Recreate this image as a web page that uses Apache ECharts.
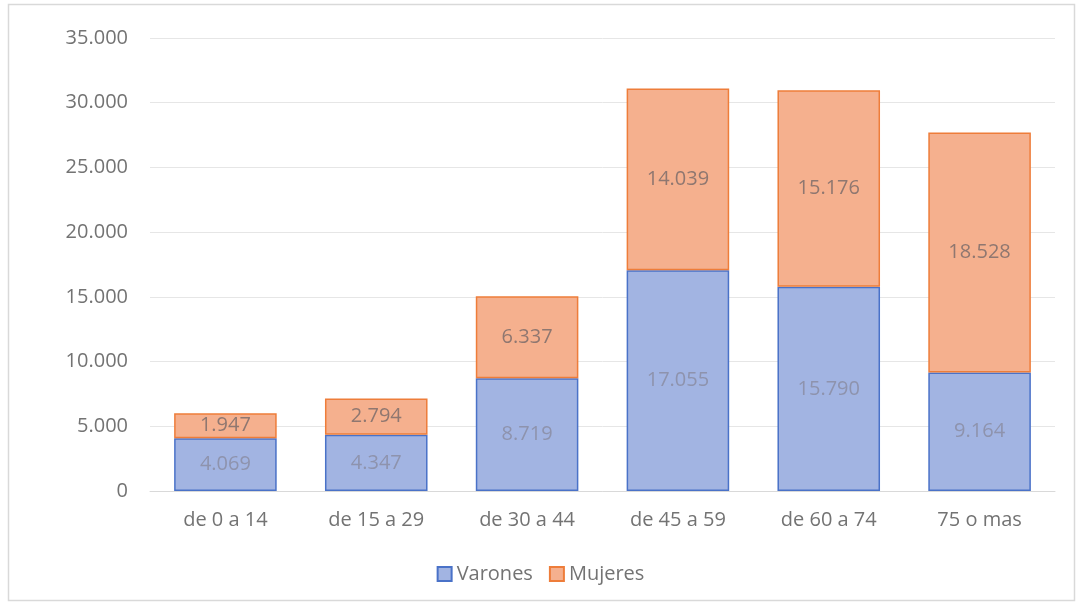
<!DOCTYPE html>
<html><head><meta charset="utf-8">
<script src="https://cdn.jsdelivr.net/npm/echarts@6/dist/echarts.min.js"></script>
<style>html,body{margin:0;padding:0;background:#fff}#c{width:1081px;height:607px}</style>
</head><body><div id="c"></div>
<script>
const categories = ['de 0 a 14','de 15 a 29','de 30 a 44','de 45 a 59','de 60 a 74','75 o mas'];
const varones = [4069, 4347, 8719, 17055, 15790, 9164];
const mujeres = [1947, 2794, 6337, 14039, 15176, 18528];
const yTicks = [0,5000,10000,15000,20000,25000,30000,35000];
function fmt(v){return String(v).replace(/\B(?=(\d{3})+(?!\d))/g,'.');}
const font = '"Open Sans", "Noto Sans", sans-serif';
const chart = echarts.init(document.getElementById('c'));
chart.setOption({
  animation:false,
  graphic:[{type:'rect',shape:{x:8.5,y:4.5,width:1066,height:596},style:{fill:'none',stroke:'#d9d9d9',lineWidth:1.5},silent:true}],
  grid:{left:150,right:26,top:38,bottom:116,containLabel:false},
  legend:{bottom:18,left:'center',itemWidth:14,itemHeight:14,itemGap:16,icon:'rect',
    textStyle:{color:'#737373',fontSize:20,fontFamily:font},data:['Varones','Mujeres']},
  xAxis:{type:'category',data:categories,axisTick:{show:false},
    axisLine:{lineStyle:{color:'#d9d9d9'}},
    axisLabel:{color:'#737373',fontSize:20,fontFamily:font,margin:19}},
  yAxis:{type:'value',min:yTicks[0],max:yTicks[yTicks.length-1],interval:5000,
    axisLabel:{color:'#737373',fontSize:20,fontFamily:font,margin:22,formatter:v=>fmt(v)},
    splitLine:{lineStyle:{color:'#e6e6e6'}},axisLine:{show:false},axisTick:{show:false}},
  series:[
    {name:'Varones',type:'bar',stack:'t',data:varones,barCategoryGap:'32%',
     itemStyle:{color:'#a2b4e2',borderColor:'#4a72c8',borderWidth:1.5},
     label:{show:true,position:'inside',color:'#8e93ad',fontSize:20,fontFamily:font,formatter:p=>fmt(p.value)}},
    {name:'Mujeres',type:'bar',stack:'t',data:mujeres,
     itemStyle:{color:'#f5b08e',borderColor:'#ee7d3a',borderWidth:1.5},
     label:{show:true,position:'inside',color:'#8f7770',fontSize:20,fontFamily:font,formatter:p=>fmt(p.value)}}
  ]
});
</script></body></html>
